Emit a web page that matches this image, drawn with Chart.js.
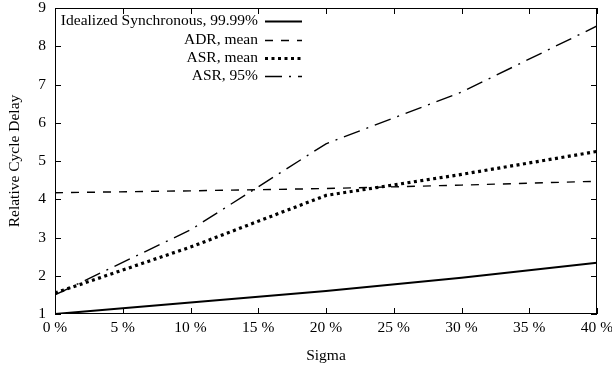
<!DOCTYPE html>
<html>
<head>
<meta charset="utf-8">
<script src="https://cdn.jsdelivr.net/npm/chart.js@4/dist/chart.umd.min.js"></script>
<style>
  html, body { margin: 0; padding: 0; background: #fff; }
  #wrap { width: 612px; height: 374px; }
</style>
</head>
<body>
<div id="wrap"><canvas id="myChart" width="612" height="374"></canvas></div>
<script>
// sigma values (%)
const sigma = [0, 10, 20, 30, 40];
const idealSync = [1.0, 1.3, 1.6, 1.95, 2.34];
const adrMean = [4.17, 4.22, 4.28, 4.37, 4.47];
const asrMean = [1.55, 2.75, 4.1, 4.65, 5.25];
const asr95 = [1.5, 3.2, 5.45, 6.8, 8.53];
const xTicks = [0, 5, 10, 15, 20, 25, 30, 35, 40];
const yTicks = [1, 2, 3, 4, 5, 6, 7, 8, 9];

const seriesNames = ['Idealized Synchronous, 99.99%', 'ADR, mean', 'ASR, mean', 'ASR, 95%'];
const fontFam = '"Liberation Serif", "Times New Roman", serif';
const fontSize = 15.5;

function pts(arr) {
  return sigma.map((s, i) => ({ x: s, y: arr[i] }));
}

const styles = [
  { borderWidth: 2, borderDash: [] },
  { borderWidth: 1.4, borderDash: [8, 8] },
  { borderWidth: 3.2, borderDash: [3, 3.5] },
  { borderWidth: 1.4, borderDash: [17, 7, 2, 7] }
];

const datasets = [idealSync, adrMean, asrMean, asr95].map((arr, i) => ({
  label: seriesNames[i],
  data: pts(arr),
  borderColor: '#000',
  backgroundColor: '#000',
  borderWidth: styles[i].borderWidth,
  borderDash: styles[i].borderDash,
  pointRadius: 0,
  tension: 0
}));

// inward ticks on all four sides + frame + custom legend (gnuplot look)
const framePlugin = {
  id: 'frame',
  afterDatasetsDraw(chart) {
    const c = chart.ctx, a = chart.chartArea;
    const xs = chart.scales.x, ys = chart.scales.y;
    c.save();
    c.strokeStyle = '#000';
    c.lineWidth = 1;
    c.setLineDash([]);
    c.strokeRect(a.left + 0.5, a.top + 0.5, a.right - a.left - 1, a.bottom - a.top - 1);
    c.beginPath();
    xTicks.forEach(v => {
      const px = Math.round(xs.getPixelForValue(v)) + 0.5;
      c.moveTo(px, a.bottom); c.lineTo(px, a.bottom - 6);
      c.moveTo(px, a.top); c.lineTo(px, a.top + 6);
    });
    yTicks.forEach(v => {
      const py = Math.round(ys.getPixelForValue(v)) + 0.5;
      c.moveTo(a.left, py); c.lineTo(a.left + 6, py);
      c.moveTo(a.right, py); c.lineTo(a.right - 6, py);
    });
    c.stroke();

    // legend
    c.font = fontSize + 'px ' + fontFam;
    c.fillStyle = '#000';
    c.textAlign = 'right';
    c.textBaseline = 'middle';
    const rows = [21, 40, 58, 76];
    chart.data.datasets.forEach((ds, i) => {
      const y = rows[i];
      c.fillText(ds.label, 258, y);
      c.beginPath();
      c.lineWidth = ds.borderWidth;
      c.setLineDash(ds.borderDash);
      c.moveTo(265, y + 0.5);
      c.lineTo(302, y + 0.5);
      c.stroke();
    });
    c.restore();
  }
};

const ctx = document.getElementById('myChart').getContext('2d');
const chart = new Chart(ctx, {
  type: 'line',
  data: { datasets: datasets },
  plugins: [framePlugin],
  options: {
    responsive: false,
    animation: false,
    layout: { padding: { top: 8, right: 15, left: 0, bottom: 0 } },
    plugins: { legend: { display: false }, tooltip: { enabled: false } },
    scales: {
      x: {
        type: 'linear',
        min: 0, max: 40,
        afterBuildTicks: s => { s.ticks = xTicks.map(v => ({ value: v })); },
        afterFit: s => { s.height = 60; s.paddingLeft = 0; s.paddingRight = 0; },
        grid: { display: false, drawTicks: false },
        border: { display: false },
        ticks: {
          color: '#000',
          padding: 5,
          maxRotation: 0,
          font: { family: fontFam, size: fontSize },
          callback: v => v + ' %'
        },
        title: {
          display: true,
          text: 'Sigma',
          color: '#000',
          font: { family: fontFam, size: fontSize },
          padding: { top: 2, bottom: 9 }
        }
      },
      y: {
        type: 'linear',
        min: 1, max: 9,
        afterBuildTicks: s => { s.ticks = yTicks.map(v => ({ value: v })); },
        afterFit: s => { s.width = 55; s.paddingTop = 0; s.paddingBottom = 0; },
        grid: { display: false, drawTicks: false },
        border: { display: false },
        ticks: {
          color: '#000',
          padding: 9,
          font: { family: fontFam, size: fontSize }
        },
        title: {
          display: true,
          text: 'Relative Cycle Delay',
          color: '#000',
          font: { family: fontFam, size: fontSize },
          padding: { top: 6, bottom: 10 }
        }
      }
    }
  }
});
</script>
</body>
</html>
